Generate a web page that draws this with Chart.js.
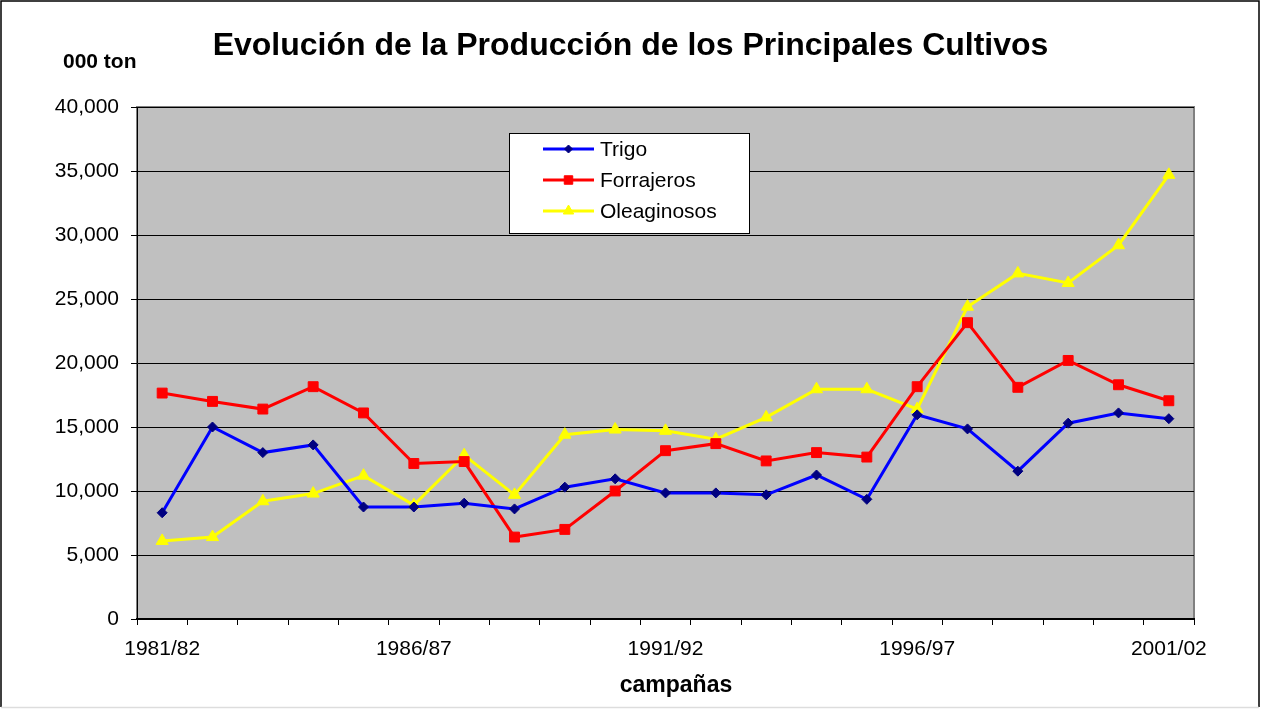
<!DOCTYPE html>
<html>
<head>
<meta charset="utf-8">
<script src="https://cdn.jsdelivr.net/npm/chart.js@4"></script>
<style>
  body { margin: 0; background: #fff; }
</style>
</head>
<body>
<canvas id="cultivosChart" width="1261" height="709"></canvas>
<script>
const campanas = ['1981/82', '1982/83', '1983/84', '1984/85', '1985/86', '1986/87', '1987/88',
  '1988/89', '1989/90', '1990/91', '1991/92', '1992/93', '1993/94', '1994/95', '1995/96',
  '1996/97', '1997/98', '1998/99', '1999/00', '2000/01', '2001/02'];

// miles de toneladas
const trigo = [8300, 15000, 13000, 13600, 8750, 8750, 9050, 8600, 10300, 10950, 9850,
  9850, 9700, 11250, 9350, 15950, 14850, 11550, 15300, 16100, 15650];
const forrajeros = [17650, 17000, 16400, 18150, 16100, 12150, 12300, 6400, 7000, 10000, 13150,
  13700, 12350, 13000, 12650, 18150, 23150, 18100, 20200, 18300, 17050];
const oleaginosos = [6100, 6400, 9200, 9800, 11200, 8900, 12800, 9700, 14400, 14800, 14700,
  14050, 15750, 17950, 17950, 16400, 24400, 27000, 26250, 29200, 34700];

const yTicks = [0, 5000, 10000, 15000, 20000, 25000, 30000, 35000, 40000];

const titulo = 'Evolución de la Producción de los Principales Cultivos';
const tituloX = 'campañas';
const unidadY = '000 ton';

const FONT = '"Liberation Sans", Arial, sans-serif';
Chart.defaults.font.family = FONT;
Chart.defaults.color = '#000';

const series = [
  { label: 'Trigo', data: trigo, color: '#0000FF', pointColor: '#000080', style: 'rectRot', radius: 5 },
  { label: 'Forrajeros', data: forrajeros, color: '#FF0000', pointColor: '#FF0000', style: 'rect', radius: 7 },
  { label: 'Oleaginosos', data: oleaginosos, color: '#FFFF00', pointColor: '#FFFF00', style: 'triangle', radius: 7 }
];

// fondo gris del area de trazado, leyenda y textos sueltos
const decoraciones = {
  id: 'decoraciones',
  beforeDraw(chart) {
    const { ctx, chartArea: a } = chart;
    ctx.save();
    ctx.fillStyle = '#C0C0C0';
    ctx.fillRect(a.left, a.top, a.right - a.left, a.bottom - a.top);
    ctx.strokeStyle = '#808080';
    ctx.lineWidth = 2;
    ctx.strokeRect(a.left, a.top, a.right - a.left, a.bottom - a.top);
    ctx.restore();
  },
  afterDraw(chart) {
    const ctx = chart.ctx;
    ctx.save();
    ctx.fillStyle = '#000';
    ctx.textBaseline = 'alphabetic';

    // titulo
    ctx.font = 'bold 32px ' + FONT;
    ctx.textAlign = 'center';
    ctx.fillText(titulo, 630.5, 55);

    // titulo del eje x
    ctx.font = 'bold 23px ' + FONT;
    ctx.fillText(tituloX, 676, 692);

    // unidad del eje y
    ctx.font = 'bold 21px ' + FONT;
    ctx.textAlign = 'left';
    ctx.fillText(unidadY, 63, 68);

    // leyenda
    ctx.fillStyle = '#fff';
    ctx.fillRect(509, 133, 240, 100);
    ctx.strokeStyle = '#000';
    ctx.lineWidth = 1;
    ctx.strokeRect(509.5, 133.5, 240, 100);
    series.forEach((s, i) => {
      const y = 149 + i * 31;
      ctx.strokeStyle = s.color;
      ctx.lineWidth = 3;
      ctx.beginPath();
      ctx.moveTo(543, y);
      ctx.lineTo(594, y);
      ctx.stroke();
      ctx.fillStyle = s.pointColor;
      ctx.strokeStyle = s.pointColor;
      ctx.lineWidth = 1;
      Chart.helpers.drawPoint(ctx, { pointStyle: s.style, radius: s.radius - 1, rotation: 0, borderWidth: 1 }, 568.5, y);
      ctx.fillStyle = '#000';
      ctx.font = '21px ' + FONT;
      ctx.textBaseline = 'middle';
      ctx.fillText(s.label, 600, y + 1);
    });

    // marco exterior
    ctx.strokeStyle = '#000';
    ctx.lineWidth = 1.5;
    ctx.beginPath();
    ctx.moveTo(1, 707);
    ctx.lineTo(1, 1);
    ctx.lineTo(1259, 1);
    ctx.lineTo(1259, 707);
    ctx.stroke();
    ctx.strokeStyle = '#ddd';
    ctx.beginPath();
    ctx.moveTo(1, 707.5);
    ctx.lineTo(1259, 707.5);
    ctx.stroke();
    ctx.restore();
  }
};

new Chart(document.getElementById('cultivosChart').getContext('2d'), {
  type: 'line',
  data: {
    labels: campanas,
    datasets: series.map(s => ({
      label: s.label,
      data: s.data,
      borderColor: s.color,
      backgroundColor: s.pointColor,
      pointBackgroundColor: s.pointColor,
      pointBorderColor: s.pointColor,
      pointStyle: s.style,
      pointRadius: s.radius,
      pointBorderWidth: 1,
      borderWidth: 3,
      tension: 0,
      fill: false
    }))
  },
  options: {
    responsive: false,
    animation: false,
    devicePixelRatio: 1,
    layout: {
      padding: { left: 0, right: 67, top: 107, bottom: 0 }
    },
    plugins: {
      legend: { display: false },
      tooltip: { enabled: false },
      title: { display: false }
    },
    scales: {
      x: {
        offset: true,
        grid: {
          offset: true,
          drawOnChartArea: false,
          drawTicks: true,
          tickLength: 6,
          color: '#000'
        },
        border: { color: '#000', width: 2 },
        ticks: {
          autoSkip: false,
          maxRotation: 0,
          padding: 12,
          font: { size: 21 },
          callback: (v, i) => (i % 5 === 0 ? campanas[i] : '')
        },
        afterFit: scale => { scale.height = 90; }
      },
      y: {
        min: 0,
        max: 40000,
        afterBuildTicks: scale => { scale.ticks = yTicks.map(v => ({ value: v })); },
        grid: {
          color: '#000',
          lineWidth: 1,
          tickLength: 6
        },
        border: { color: '#000', width: 1 },
        ticks: {
          padding: 12,
          font: { size: 21 },
          callback: v => v.toLocaleString('en-US')
        },
        afterFit: scale => { scale.width = 137; }
      }
    }
  },
  plugins: [decoraciones]
});
</script>
</body>
</html>
